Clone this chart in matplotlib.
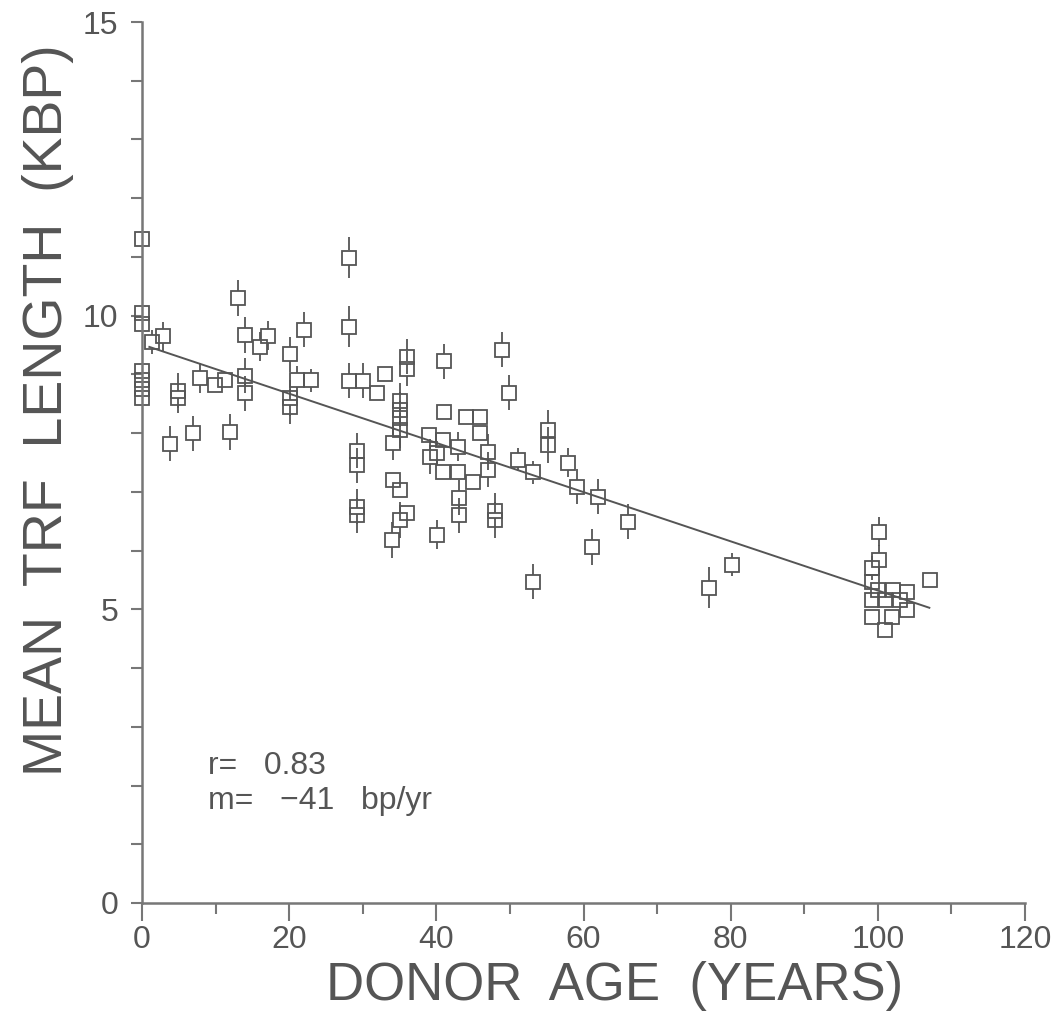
import numpy as np
from matplotlib import pyplot as plt
from matplotlib.ticker import MultipleLocator

# donor age (years), mean TRF length (kbp), half-length of the error bar (kbp)
ages = [0, 0, 0, 0, 0, 0, 0, 1.4, 2.9, 3.8,
        4.9, 4.9, 6.9, 7.9, 9.9, 11.3, 12.0, 13.0, 14.0, 14.0,
        14.0, 16.0, 17.1, 20.1, 20.1, 20.1, 21.1, 22.0, 23.0, 28.1,
        28.1, 28.1, 29.2, 29.2, 29.2, 29.2, 30.0, 31.9, 33.0, 34.1,
        34.1, 34.0, 35.0, 35.0, 35.0, 35.0, 35.0, 35.0, 36.0, 36.0,
        36.0, 39.0, 39.1, 40.1, 40.9, 40.9, 41.0, 41.0, 40.1, 43.0,
        43.0, 43.1, 43.1, 44.0, 45.0, 45.9, 45.9, 47.0, 47.0, 48.0,
        48.0, 48.9, 49.9, 51.1, 53.1, 53.1, 55.2, 55.2, 57.9, 59.1,
        61.1, 62.0, 66.0, 77.0, 80.2, 100.1, 100.1, 99.2, 99.2, 100.0,
        99.2, 101.0, 102.0, 103.0, 104.0, 104.0, 99.2, 101.9, 101.0, 107.1]
trf_kbp = [11.3, 10.05, 9.85, 9.05, 8.9, 8.75, 8.6, 9.55, 9.65, 7.82,
           8.72, 8.6, 8.0, 8.94, 8.82, 8.9, 8.02, 10.3, 9.67, 8.98,
           8.68, 9.47, 9.66, 9.34, 8.6, 8.45, 8.9, 9.76, 8.9, 10.99,
           9.81, 8.89, 7.7, 7.45, 6.75, 6.6, 8.89, 8.69, 9.0, 7.84,
           7.2, 6.18, 8.55, 8.4, 8.25, 8.05, 7.04, 6.52, 9.3, 9.1,
           6.64, 7.97, 7.6, 6.27, 7.89, 7.33, 9.22, 8.36, 7.67, 7.77,
           7.33, 6.9, 6.6, 8.28, 7.17, 8.28, 8.0, 7.68, 7.38, 6.68,
           6.52, 9.42, 8.69, 7.55, 7.33, 5.47, 8.05, 7.8, 7.5, 7.09,
           6.06, 6.92, 6.49, 5.37, 5.76, 6.32, 5.84, 5.7, 5.47, 5.33,
           5.16, 5.16, 5.33, 5.16, 5.3, 4.99, 4.87, 4.87, 4.65, 5.5]
trf_err = [0.25, 0.25, 0.2, 0.2, 0.2, 0.2, 0.25, 0.2, 0.25, 0.3,
           0.3, 0.25, 0.3, 0.25, 0, 0, 0.3, 0.3, 0.3, 0.3,
           0.3, 0.25, 0.25, 0.3, 0.3, 0.3, 0.25, 0.3, 0.2, 0.35,
           0.35, 0.3, 0.3, 0.3, 0.3, 0.3, 0.3, 0, 0, 0.3,
           0, 0.3, 0.3, 0.3, 0.3, 0.3, 0, 0.3, 0.3, 0.3,
           0, 0, 0.3, 0.25, 0, 0, 0.3, 0, 0.2, 0.25,
           0, 0.3, 0.3, 0, 0, 0, 0, 0.3, 0.3, 0.3,
           0.3, 0.3, 0.3, 0.2, 0.2, 0.3, 0.35, 0.3, 0.25, 0.3,
           0.3, 0.3, 0.3, 0.35, 0.2, 0.25, 0.25, 0.2, 0, 0,
           0, 0, 0, 0, 0, 0, 0, 0, 0, 0]

# regression line from the paper
fit_ages = [1, 107]
fit_intercept = 9.51
fit_slope = -0.0419

grey = "#555555"
font = "Liberation Sans"

fig = plt.figure(figsize=(10.59, 10.14), dpi=100)
ax = fig.add_axes([142 / 1059, 1 - 903 / 1014, 883 / 1059, 881 / 1014])

ages = np.array(ages)
trf_kbp = np.array(trf_kbp)
trf_err = np.array(trf_err)

# error bars above and below the open squares (not through them)
half = 0.12
has_err = trf_err > half
ax.vlines(ages[has_err], trf_kbp[has_err] + half, trf_kbp[has_err] + trf_err[has_err],
          color=grey, lw=1.3)
ax.vlines(ages[has_err], trf_kbp[has_err] - trf_err[has_err], trf_kbp[has_err] - half,
          color=grey, lw=1.3)
ax.plot(ages, trf_kbp, ls="none", marker="s", ms=10.5, mfc="none",
        mec=grey, mew=1.3, clip_on=False)

fit_x = np.array(fit_ages)
ax.plot(fit_x, fit_intercept + fit_slope * fit_x, color=grey, lw=1.4)

ax.set_xlim(0, 120)
ax.set_ylim(0, 15)
ax.xaxis.set_major_locator(MultipleLocator(20))
ax.xaxis.set_minor_locator(MultipleLocator(10))
ax.yaxis.set_major_locator(MultipleLocator(5))
ax.yaxis.set_minor_locator(MultipleLocator(1))

for s in ["top", "right"]:
    ax.spines[s].set_visible(False)
for s in ["left", "bottom"]:
    ax.spines[s].set_color("#777777")
    ax.spines[s].set_linewidth(1.8)

ax.tick_params(axis="x", which="major", direction="out", length=13, width=1.5,
               color="#777777", pad=3, labelsize=23, labelcolor=grey)
ax.tick_params(axis="x", which="minor", direction="out", length=8, width=1.5,
               color="#777777")
ax.tick_params(axis="y", which="both", direction="out", length=8, width=1.5,
               color="#777777", pad=9, labelsize=23, labelcolor=grey)
for lab in ax.get_xticklabels() + ax.get_yticklabels():
    lab.set_fontfamily(font)

fig.text(615 / 1059, 1 - 1000 / 1014, "DONOR  AGE  (YEARS)", ha="center",
         va="baseline", fontsize=38, color=grey, family=font)
fig.text(62 / 1059, 1 - 410 / 1014, "MEAN  TRF  LENGTH  (KBP)", ha="center",
         va="baseline", rotation=90, rotation_mode="anchor", fontsize=40,
         color=grey, family=font)

ax.text(208 / 1059, 1 - 774 / 1014, "r=   0.83", transform=fig.transFigure,
        fontsize=23, color=grey, family=font, va="baseline")
ax.text(208 / 1059, 1 - 809 / 1014, "m=   \u221241   bp/yr", transform=fig.transFigure,
        fontsize=23, color=grey, family=font, va="baseline")

plt.savefig("out.png", dpi=100)
